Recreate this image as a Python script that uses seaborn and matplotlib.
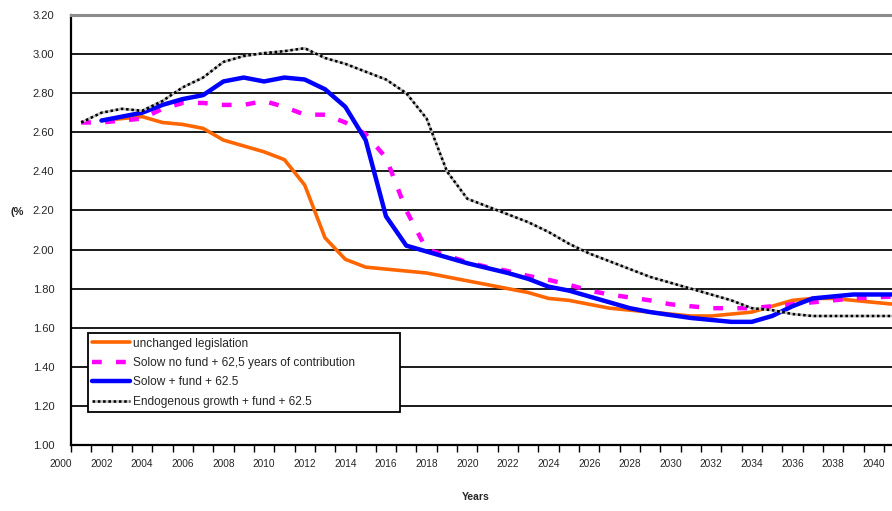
import numpy as np
import pandas as pd
import matplotlib
matplotlib.use("Agg")
import matplotlib.pyplot as plt
import seaborn as sns

# data (values in %)
years_unchanged = list(range(2002, 2042))
unchanged = [2.66, 2.67, 2.68, 2.65, 2.64, 2.62, 2.56, 2.53, 2.50, 2.46,
             2.33, 2.06, 1.95, 1.91, 1.90, 1.89, 1.88, 1.86, 1.84, 1.82,
             1.80, 1.78, 1.75, 1.74, 1.72, 1.70, 1.69, 1.68, 1.67, 1.66,
             1.66, 1.67, 1.68, 1.71, 1.74, 1.75, 1.75, 1.74, 1.73, 1.72]

years_solow_nofund = list(range(2001, 2042))
solow_nofund = [2.65, 2.65, 2.66, 2.67, 2.72, 2.75, 2.75, 2.74, 2.74, 2.76,
                2.73, 2.69, 2.69, 2.65, 2.59, 2.47, 2.20, 2.00, 1.97, 1.935,
                1.91, 1.89, 1.865, 1.845, 1.82, 1.79, 1.77, 1.755, 1.74, 1.72,
                1.71, 1.70, 1.70, 1.70, 1.71, 1.72, 1.73, 1.74, 1.75, 1.755, 1.76]

years_solow_fund = list(range(2002, 2042))
solow_fund = [2.66, 2.68, 2.70, 2.74, 2.77, 2.79, 2.86, 2.88, 2.86, 2.88,
              2.87, 2.82, 2.73, 2.56, 2.17, 2.02, 1.99, 1.96, 1.93, 1.905,
              1.88, 1.85, 1.81, 1.79, 1.76, 1.73, 1.70, 1.68, 1.665, 1.65,
              1.64, 1.63, 1.63, 1.66, 1.71, 1.75, 1.76, 1.77, 1.77, 1.77]

years_endo = list(range(2001, 2042))
endo = [2.65, 2.70, 2.72, 2.71, 2.76, 2.83, 2.88, 2.96, 2.99, 3.005,
        3.015, 3.03, 2.98, 2.95, 2.91, 2.87, 2.80, 2.67, 2.40, 2.26,
        2.22, 2.18, 2.14, 2.09, 2.03, 1.98, 1.94, 1.90, 1.86, 1.83,
        1.80, 1.77, 1.74, 1.70, 1.69, 1.67, 1.66, 1.66, 1.66, 1.66, 1.66]

labels = ["unchanged legislation",
          "Solow no fund + 62,5 years of contribution",
          "Solow + fund + 62.5",
          "Endogenous growth + fund + 62.5"]

tick_years = list(range(2000, 2041, 2))

sns.set_style("white")
plt.rcParams["font.family"] = ["Liberation Sans", "DejaVu Sans"]

fig = plt.figure(figsize=(8.92, 5.11), dpi=100)
ax = fig.add_axes([71 / 892, 66 / 511, 821 / 892, 430 / 511])

df1 = pd.DataFrame({"year": years_unchanged, "value": unchanged})
df2 = pd.DataFrame({"year": years_solow_nofund, "value": solow_nofund})
df3 = pd.DataFrame({"year": years_solow_fund, "value": solow_fund})
df4 = pd.DataFrame({"year": years_endo, "value": endo})

sns.lineplot(data=df1, x="year", y="value", ax=ax, color="#FF6600", lw=2.6,
             label=labels[0])
sns.lineplot(data=df2, x="year", y="value", ax=ax, color="#FF00FF", lw=3.2,
             label=labels[1])
ax.lines[-1].set_dashes((2.2, 3.2))
sns.lineplot(data=df3, x="year", y="value", ax=ax, color="#0000FF", lw=3.2,
             label=labels[2])
sns.lineplot(data=df4, x="year", y="value", ax=ax, color="black", lw=1.9,
             label=labels[3])
ax.lines[-1].set_dashes((1, 1))
ax.lines[-1].set_gapcolor("#bdbdbd")

ax.set_yticks(np.arange(1.0, 3.21, 0.2))
ax.set_yticklabels([f"{v:.2f}" for v in np.arange(1.0, 3.21, 0.2)], fontsize=8)
ax.tick_params(axis="y", length=4, width=1, direction="out", pad=8, color="black")

ax.set_xticks(tick_years)
ax.set_xticklabels([str(y) for y in tick_years], fontsize=7.3)
ax.set_xticks(np.arange(2000.5, 2041, 1), minor=True)
ax.tick_params(axis="x", which="major", length=0, pad=10)
ax.tick_params(axis="x", which="minor", length=5, width=1, direction="out",
               color="black", bottom=True)

# limits after the ticks, so the ticks don't widen the view
ax.set_xlim(2000.5, 2040.9)
ax.set_ylim(1.0, 3.2)

# first label sits left of the axis line, outside the view
ax.annotate(str(tick_years[0]), xy=(tick_years[0], 0),
            xycoords=ax.get_xaxis_transform(), xytext=(0, -10),
            textcoords="offset points", ha="center", va="top",
            fontsize=7.3, annotation_clip=False)

ax.yaxis.grid(True, color="#1a1a1a", lw=1.4)
ax.set_axisbelow(True)

ax.spines["right"].set_visible(False)
ax.spines["top"].set_color("#8c8c8c")
ax.spines["top"].set_linewidth(2.2)
ax.spines["left"].set_color("black")
ax.spines["left"].set_linewidth(1.6)
ax.spines["bottom"].set_color("black")
ax.spines["bottom"].set_linewidth(1.6)

ax.set_xlabel("")
ax.set_ylabel("")
ax.text(-0.065, 0.542, "(%", transform=ax.transAxes, fontsize=8,
        fontweight="bold", ha="center", va="center")
ax.text(0.493, -0.121, "Years", transform=ax.transAxes, fontsize=7.5,
        fontweight="bold", ha="center", va="center")

leg = ax.legend(loc="lower left",
                bbox_to_anchor=(0.0207, 0.0767, 0.380, 0.184),
                mode="expand", borderaxespad=0, fontsize=8.6, frameon=True,
                fancybox=False, handlelength=3.2, handletextpad=0.2,
                labelspacing=0.62, borderpad=0.35)
leg.get_frame().set_edgecolor("black")
leg.get_frame().set_linewidth(1.3)
leg.get_frame().set_alpha(1)

fig.savefig("out.png", dpi=100)
